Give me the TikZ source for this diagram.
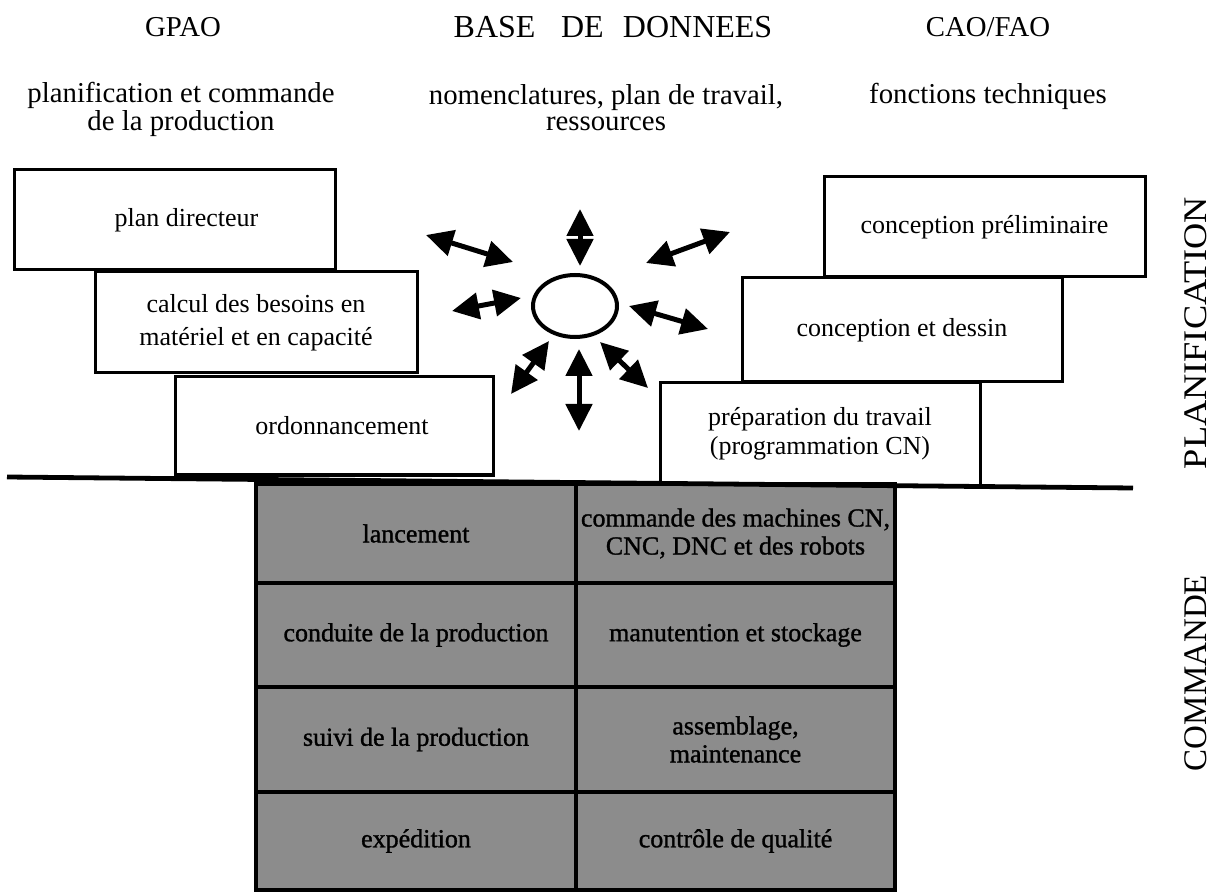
\documentclass[tikz,border=0pt]{standalone}
\usepackage{fontspec}
\setmainfont{Liberation Serif}
\newfontfamily\gridfont{Liberation Serif}[FakeBold=1.2]
\usetikzlibrary{arrows.meta,shapes.geometric}
\begin{document}
\begin{tikzpicture}[x=0.5pt,y=-0.5pt,
  box/.style={draw,line width=1.5pt,fill=white,minimum width=160pt,minimum height=50pt,inner sep=0pt,align=center,font=\fontsize{13}{14.5}\selectfont},
  cell/.style={draw,line width=1.6pt,fill=black!45,minimum width=160pt,inner sep=0pt,align=center,font=\gridfont\fontsize{13}{14}\selectfont},
  head/.style={font=\fontsize{14.4}{13}\selectfont,align=center,anchor=base},
  dbl/.style={line width=2.5pt,{Triangle[length=13.5pt,width=13pt]}-{Triangle[length=13.5pt,width=13pt]}},
  side/.style={font=\fontsize{16.5}{16.5}\selectfont,rotate=90,inner sep=0pt}
]
\useasboundingbox (0,0) rectangle (1222,893);

% headers
\node[head] (gpao) at (183,37) {GPAO};
\node[head,font=\fontsize{16}{16}\selectfont] (bdd) at (613,38) {BASE\hspace{0.8em}DE\hspace{0.6em}DONNEES};
\node[head] (cao) at (988,37) {CAO/FAO};
\node[head] (gpaod) at (181,131) {planification et commande\\de la production};
\node[head] (bddd) at (606,131) {nomenclatures, plan de travail,\\ressources};
\node[head] (caod) at (988,104) {fonctions techniques};

% planning boxes (left)
\node[box,minimum width=160.5pt,minimum height=50pt] (pd) at (174.5,220) {\hspace{12pt}plan directeur};
\node[box,minimum width=161pt,minimum height=50.5pt,font=\fontsize{13}{16.5}\selectfont] (cb) at (256,322.5) {calcul des besoins en\\matériel et en capacité};
\node[box,minimum width=159pt,minimum height=49pt] (ord) at (334,426) {\hspace{8pt}ordonnancement};

% planning boxes (right)
\node[box,minimum width=160.5pt,minimum height=50pt] (cp) at (984.5,227) {conception préliminaire};
\node[box,minimum width=160pt,minimum height=52pt] (cd) at (902,330) {conception et dessin};
\node[box,minimum width=160pt,minimum height=51pt] (pt) at (820,434) {préparation du travail\\(programmation CN)};

% database
\node[ellipse,draw,line width=2pt,minimum width=42pt,minimum height=31pt,inner sep=0pt] (db) at (575,306) {};

% arrows
\coordinate (t1) at (580,209);  \coordinate (t2) at (580,266);
\coordinate (ul1) at (426,235); \coordinate (ul2) at (513,262);
\coordinate (ur1) at (646,263); \coordinate (ur2) at (730,232);
\coordinate (ml1) at (452,311); \coordinate (ml2) at (521,298);
\coordinate (mr1) at (629,306); \coordinate (mr2) at (708,329);
\coordinate (ll1) at (549,341); \coordinate (ll2) at (511,394);
\coordinate (b1) at (579,349);  \coordinate (b2) at (579,431);
\coordinate (lr1) at (600,342); \coordinate (lr2) at (648,388);
\draw[dbl] (t1) -- (t2);
\draw[dbl] (ul1) -- (ul2);
\draw[dbl] (ur1) -- (ur2);
\draw[dbl] (ml1) -- (ml2);
\draw[dbl] (mr1) -- (mr2);
\draw[dbl] (ll1) -- (ll2);
\draw[dbl] (b1) -- (b2);
\draw[dbl] (lr1) -- (lr2);

% control grid
\node[cell,minimum height=49.5pt] (c11) at (416,533.5) {lancement};
\node[cell,minimum width=159.5pt,minimum height=49.5pt] (c12) at (735.5,533.5) {commande des machines CN,\\CNC, DNC et des robots};
\node[cell,minimum height=52pt] (c21) at (416,635) {conduite de la production};
\node[cell,minimum width=159.5pt,minimum height=52pt] (c22) at (735.5,635) {manutention et stockage};
\node[cell,minimum height=52.5pt] (c31) at (416,739.5) {suivi de la production};
\node[cell,minimum width=159.5pt,minimum height=52.5pt] (c32) at (735.5,739.5) {assemblage,\\maintenance};
\node[cell,minimum height=49pt] (c41) at (416,841) {expédition};
\node[cell,minimum width=159.5pt,minimum height=49pt] (c42) at (735.5,841) {contrôle de qualité};

% separating line
\coordinate (hl1) at (7,477);
\coordinate (hl2) at (1133,488);
\draw[line width=2.4pt] (hl1) -- (hl2);

% side labels
\node[side] (plan) at (1196,333) {\scalebox{1.1}[1]{PLANIFICATION}};
\node[side] (comm) at (1196,673) {COMMANDE};
\end{tikzpicture}
\end{document}
